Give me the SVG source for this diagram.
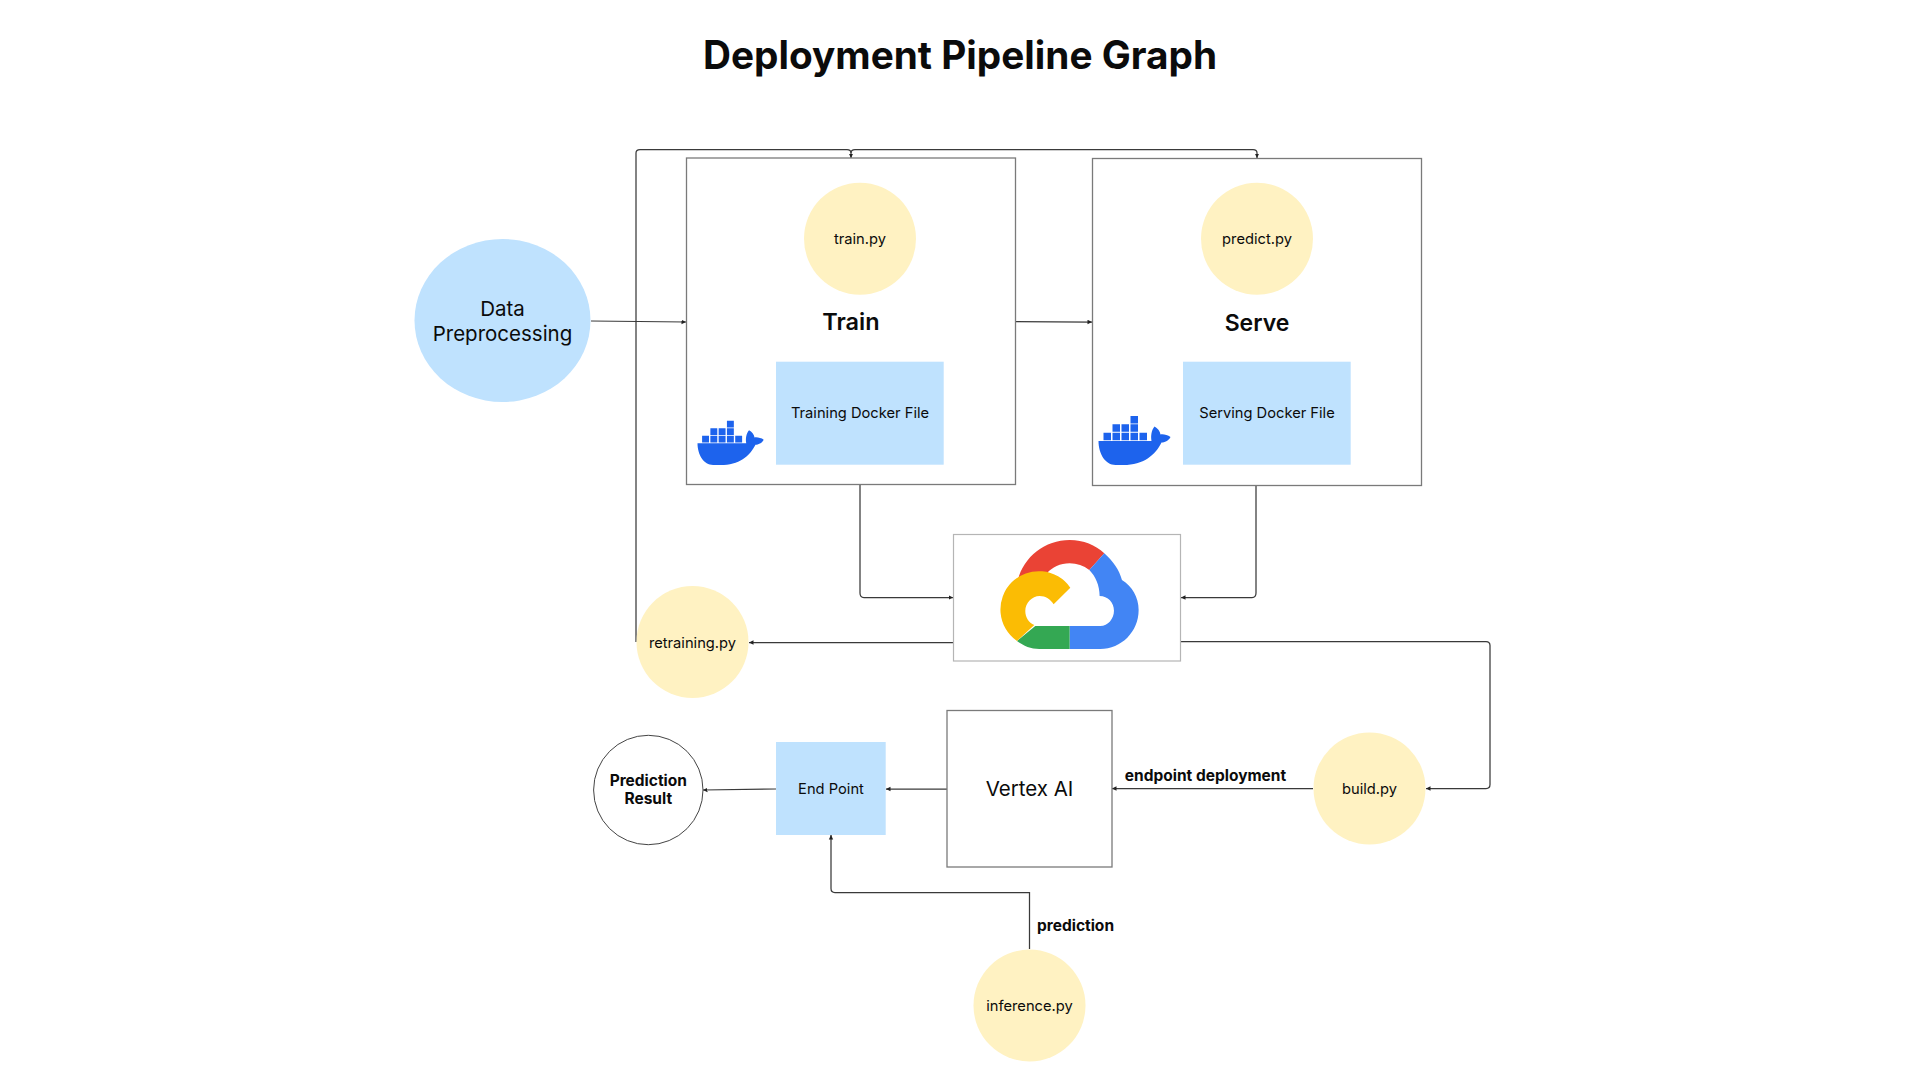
<svg xmlns="http://www.w3.org/2000/svg" width="1920" height="1080" viewBox="0 0 1920 1080">
<defs>
<style>
text{font-family:"Inter","Noto Sans","Liberation Sans",sans-serif;fill:#0b0b0b;text-anchor:middle}
.y{fill:#fff2c2}.b{fill:#bfe2fe}
.box{fill:#fff;stroke:#7a7a7a;stroke-width:1.3}
.t{font-size:14.700px}
.l{font-size:15.500px;font-weight:700}
.c{fill:none;stroke:#3a3a3a;stroke-width:1.250;marker-end:url(#a)}
.d{fill:#1d63ed}
</style>
<marker id="a" markerUnits="userSpaceOnUse" markerWidth="6" markerHeight="6" refX="4.500" refY="3" orient="auto"><path d="M0,0.800L4.500,3L0,5.200z" fill="#222"/></marker>
<g id="whale">
<path class="d" d="M0,25H53C52,20 53,14 56,10.500C59,12 61.500,15 62,18.500C65,18 69,19 72,21C70,25 66,26.500 63,26.500C57,39 45,49 25,49H17C7,49 0,38 0,25Z"/>
<path class="d" d="M5,16.700h7.500v7.500h-7.500zM14,16.700h7.500v7.500h-7.500zM23,16.700h7.500v7.500h-7.500zM32,16.700h7.500v7.500h-7.500zM41,16.700h7.500v7.500h-7.500zM14,8.300h7.500v7.500h-7.500zM23,8.300h7.500v7.500h-7.500zM32,8.300h7.500v7.500h-7.500zM32,0h7.500v7.500h-7.500z"/>
</g>
</defs>
<rect width="1920" height="1080" fill="#fff"/>
<text id="title" x="960" y="69" font-size="39" font-weight="700" fill="#000" textLength="514" lengthAdjust="spacingAndGlyphs">Deployment Pipeline Graph</text>

<g id="connectors">
<path class="c" d="M591,321L686,322"/>
<path class="c" d="M1016,321.500L1092,322"/>
<path class="c" d="M636,642V153Q636,149.500 640,149.500H847Q851,149.500 851,153V158"/>
<path class="c" d="M851,153Q851,149.500 855,149.500H1253Q1257,149.500 1257,153V158"/>
<path class="c" d="M860,485V593Q860,597.500 864,597.500H953"/>
<path class="c" d="M1256,486V593Q1256,597.500 1252,597.500H1181"/>
<path class="c" d="M953,642.500H749"/>
<path class="c" d="M1181,641.500H1486Q1490,641.500 1490,645.500V784.500Q1490,788.500 1486,788.500H1426"/>
<path class="c" d="M1313,788.500H1112"/>
<path class="c" d="M947,789H886"/>
<path class="c" d="M776,789L703,790"/>
<path class="c" d="M1029.500,949V892.500H835Q831,892.500 831,888.500V835"/>
</g>

<g id="train"><rect class="box" x="686.500" y="158" width="329" height="326.500"/></g>
<g id="serve"><rect class="box" x="1092.500" y="158.500" width="329" height="327"/></g>
<g id="train-label"><text x="851" y="329.500" font-size="23.500" font-weight="600">Train</text></g>
<g id="serve-label"><text x="1257" y="330.500" font-size="23" font-weight="600">Serve</text></g>
<g id="train-py"><circle class="y" cx="860" cy="238.700" r="56"/><text class="t" x="860" y="244">train.py</text></g>
<g id="predict-py"><circle class="y" cx="1257" cy="238.700" r="56"/><text class="t" x="1257" y="244">predict.py</text></g>
<g id="training-docker"><rect class="b" x="776" y="361.700" width="167.700" height="103"/><text class="t" x="860" y="418">Training Docker File</text></g>
<g id="serving-docker"><rect class="b" x="1183" y="361.700" width="167.700" height="103"/><text class="t" x="1267" y="418">Serving Docker File</text></g>
<g id="docker-train"><use href="#whale" transform="translate(697.500,420.700) scale(0.92,0.905)"/></g>
<g id="docker-serve"><use href="#whale" transform="translate(1098.500,416)"/></g>
<g id="data-preprocessing"><ellipse class="b" cx="502.500" cy="320.500" rx="88" ry="81.500"/><text x="502.500" y="315.500" font-size="20.500">Data</text><text x="502.500" y="340.500" font-size="20.500">Preprocessing</text></g>

<g id="gcp">
<rect x="953.500" y="534.500" width="227" height="126.500" fill="#fff" stroke="#b5b5b5" stroke-width="1.200"/>
<g transform="translate(940.300,520) scale(0.33333)">
<path fill="#ea4335" d="M233,180C250,110 315,60 388,60C430,60 465,75 492,100L447,150C430,137 410,130 388,130C360,130 335,142 320,160L240,190Z"/>
<path fill="#4285f4" d="M492,100C518,123 537,150 545,180C575,198 595,232 595,270C595,335 543,387 480,387H388V318H480C503,318 521,296 521,272C521,248 503,228 478,228C478,195 465,168 447,150Z"/>
<path fill="#34a853" d="M388,318H285L230,363C250,378 272,387 297,387H388Z"/>
<path fill="#fbbc04" d="M390,203A115,115 0 1 0 230,363L282,315C265,308 255,292 255,273C255,249 275,228 298,228C316,228 331,238 340,253Z"/>
</g>
</g>
<g id="retraining-py"><circle class="y" cx="692.500" cy="642" r="56"/><text class="t" x="692.500" y="647.500">retraining.py</text></g>
<g id="build-py"><circle class="y" cx="1369.500" cy="788.500" r="56"/><text class="t" x="1369.500" y="794">build.py</text></g>
<g id="inference-py"><circle class="y" cx="1029.500" cy="1005.500" r="56"/><text class="t" x="1029.500" y="1011">inference.py</text></g>
<g id="vertex-ai"><rect class="box" x="947" y="710.500" width="165" height="156.500"/><text x="1029.500" y="796" font-size="20.500">Vertex AI</text></g>
<g id="end-point"><rect class="b" x="776" y="742" width="109.700" height="93"/><text class="t" x="831" y="794">End Point</text></g>
<g id="prediction-result"><circle cx="648.300" cy="790" r="54.700" fill="#fff" stroke="#444" stroke-width="1"/><text class="l" x="648.300" y="786">Prediction</text><text class="l" x="648.300" y="804">Result</text></g>
<g id="label-endpoint"><text class="l" x="1205.500" y="781">endpoint deployment</text></g>
<g id="label-prediction"><text class="l" x="1075.500" y="931">prediction</text></g>
</svg>
